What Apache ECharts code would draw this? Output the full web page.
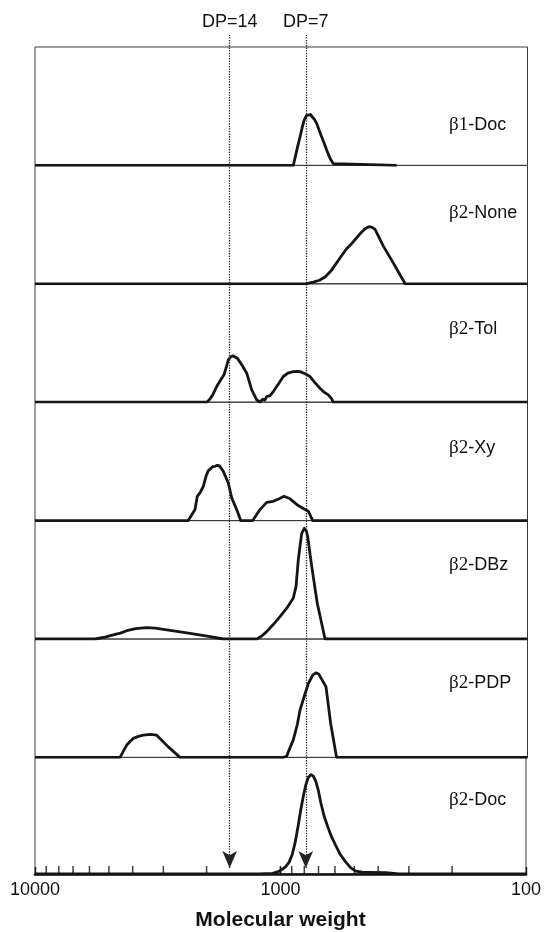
<!DOCTYPE html>
<html><head><meta charset="utf-8">
<script src="https://cdn.jsdelivr.net/npm/echarts@6/dist/echarts.min.js"></script>
<style>html,body{margin:0;padding:0;background:#fff}#c{width:544px;height:932px}</style>
</head><body><div id="c"></div>
<script>
// ---------- data (molecular weight, relative signal 0-100 of panel height) ----------
const panelNames = ['β1-Doc', 'β2-None', 'β2-Tol', 'β2-Xy', 'β2-DBz', 'β2-PDP', 'β2-Doc'];

const b1Doc = [[10000,0],[893,0],[860,15],[839,24],[820,33],[808,38],[790,42],[776,43.3],[762,43],[750,42],[734,39],[718,35.5],[690,25.6],[670,19],[654,13],[640,8],[628,4.5],[615,1.5],[605,0],[340,0]];
const b2None = [[10000,0],[796,0],[741,1.4],[700,3],[664,5.8],[630,10.5],[596,17.7],[570,23.5],[543,29.6],[520,33.5],[494,38.9],[475,43],[457,46.5],[445,47.8],[436,48.2],[426,47.5],[416,45.9],[385,31.8],[351,17.7],[314,0],[100,0]];
const b2Tol = [[10000,0],[2008,0],[1960,2],[1900,6],[1829,13.2],[1760,19],[1708,23.2],[1670,30],[1641,35.7],[1600,38.5],[1566,39.1],[1538,38.5],[1508,37.2],[1440,31],[1381,24.5],[1318,10.4],[1258,2],[1220,0],[1190,2.5],[1165,1.8],[1146,4.8],[1110,5.5],[1077,9],[1030,15],[981,21.7],[940,24.5],[894,25.8],[860,26],[839,25.8],[800,24],[764,21.7],[730,16.5],[696,11.8],[670,8.5],[644,6.2],[625,3],[615,0],[100,0]];
const b2Xy = [[10000,0],[2385,0],[2240,9.3],[2192,20.5],[2130,24],[2073,28.9],[2021,37.4],[1980,42],[1947,43.6],[1900,45.5],[1858,45.9],[1820,46.6],[1785,46.4],[1750,44],[1719,41.6],[1641,31.8],[1589,19.2],[1517,9.3],[1461,0],[1306,0],[1220,9.3],[1146,15.4],[1077,16.3],[1020,18.5],[974,20.5],[921,18.4],[853,12.7],[810,10],[776,7.9],[745,0],[100,0]];
const b2DBz = [[10000,0],[5704,0],[5200,1.5],[4809,3.4],[4500,5],[4242,7],[3900,8.8],[3519,9.6],[3250,9.2],[3013,8.2],[2650,6.5],[2347,4.8],[2000,2.5],[1719,0],[1258,0],[1200,2.5],[1146,6.2],[1080,12],[1012,18.9],[950,26],[894,34.4],[871,44.2],[853,66.7],[826,89.2],[806,93.5],[790,91],[781,86.4],[752,61.1],[714,30.2],[664,0],[100,0]];
const b2PDP = [[10000,0],[4516,0],[4242,10.4],[3989,16.1],[3800,17.8],[3633,18.8],[3400,19.5],[3205,18.8],[2875,8.9],[2578,0],[981,0],[950,1],[936,4.7],[894,14.6],[860,28],[839,40],[800,54],[776,62.4],[745,69.5],[723,71.4],[705,70.5],[696,69.5],[658,59.6],[630,28.7],[596,0],[100,0]];
const b2Doc = [[10000,0],[1220,0],[1077,0.6],[1020,2],[981,4.2],[950,6.5],[921,10.4],[895,17],[871,27.3],[848,41],[826,55.5],[805,68],[788,76.6],[770,83],[752,85.1],[735,84],[718,79.4],[700,71],[685,61.1],[665,50],[644,41.4],[620,32],[596,24.5],[570,16.5],[543,10.4],[518,5.5],[494,2.5],[465,1.6],[436,1.4],[373,1.2],[329,0],[100,0]];

const dpMarkers = [{label:'DP=14', mw:1620}, {label:'DP=7', mw:795}];
const minorTickValues = [200,300,400,500,600,700,800,900,1000,2000,3000,4000,5000,6000,7000,8000,9000];
const axisMin = 100, axisMax = 10000;

// ---------- layout ----------
const panelData = [b1Doc, b2None, b2Tol, b2Xy, b2DBz, b2PDP, b2Doc];
const N = 7, top0 = 47, ph = 118.4, L = 35, R = 16.5;
const labelOffset = [78, 48, 45.7, 46, 44, 44.3, 42.7];
const sans = 'Liberation Sans', serif = 'Liberation Serif';

const grid = [], xAxis = [], yAxis = [], series = [], title = [];
for (let i = 0; i < N; i++) {
  const last = i === N - 1;
  grid.push({left:L, right:R, top:top0 + i*ph, height:ph, show:true, borderColor:'#3a3a3a', borderWidth:1});
  xAxis.push({
    type:'log', logBase:10, gridIndex:i, min:axisMin, max:axisMax, inverse:true,
    axisLine:{show:last, onZero:false, lineStyle:{color:'#111', width:2.6}},
    axisTick:{show:last, inside:true, length:7, lineStyle:{color:'#111', width:1.4}},
    axisLabel:{show:last, margin:7, fontSize:18, color:'#111', fontFamily:sans,
      formatter:v => String(Math.round(v)), showMinLabel:true, showMaxLabel:true},
    splitLine:{show:false}, minorTick:{show:false},
    name: last ? 'Molecular weight' : '', nameLocation:'middle', nameGap:36,
    nameTextStyle:{fontSize:21, fontWeight:'bold', color:'#111', fontFamily:sans}
  });
  yAxis.push({type:'value', gridIndex:i, min:0, max:100, show:false});
  series.push({type:'line', xAxisIndex:i, yAxisIndex:i, data:panelData[i], symbol:'none', showSymbol:false,
    lineStyle:{color:'#151515', width:2.8, join:'round'}, z:3, animation:false, silent:true});
  const n = panelNames[i];
  title.push({text:`{g|${n.slice(0,2)}}{s|${n.slice(2)}}`, left:449, top:top0 + i*ph + labelOffset[i] - 10, padding:0,
    textStyle:{fontWeight:'normal', rich:{
      g:{fontFamily:serif, fontSize:19, fontWeight:'normal', color:'#111', lineHeight:20},
      s:{fontFamily:sans, fontSize:18, fontWeight:'normal', color:'#111', lineHeight:20}}}});
}
// minor ticks on bottom axis
series.push({type:'scatter', xAxisIndex:N-1, yAxisIndex:N-1, data:minorTickValues.map(v => [v, 0]),
  symbol:'rect', symbolSize:[1.5, 8], symbolOffset:[0, -4], itemStyle:{color:'#111'}, silent:true, z:4, clip:false, animation:false});

// overlay for DP markers
grid.push({left:L, right:R, top:35, height:833, show:false});
xAxis.push({type:'log', logBase:10, gridIndex:N, min:axisMin, max:axisMax, inverse:true, show:false});
yAxis.push({type:'value', gridIndex:N, min:0, max:1, show:false});
series.push({type:'scatter', xAxisIndex:N, yAxisIndex:N, data:[[1000, 0.5]], symbolSize:0, itemStyle:{opacity:0}, silent:true, animation:false, z:6,
  markLine:{silent:true, animation:false, symbol:['arrow','none'], symbolSize:[11,17],
    lineStyle:{type:'dotted', color:'#222', width:1.3},
    label:{show:true, position:'end', formatter:'{b}', fontSize:18, color:'#111', fontFamily:sans, distance:4},
    emphasis:{disabled:true},
    data:dpMarkers.map(d => ({name:d.label, xAxis:d.mw}))}});

const chart = echarts.init(document.getElementById('c'), null, {renderer:'canvas'});
chart.setOption({backgroundColor:'#fff', animation:false, title, grid, xAxis, yAxis, series});
</script></body></html>
